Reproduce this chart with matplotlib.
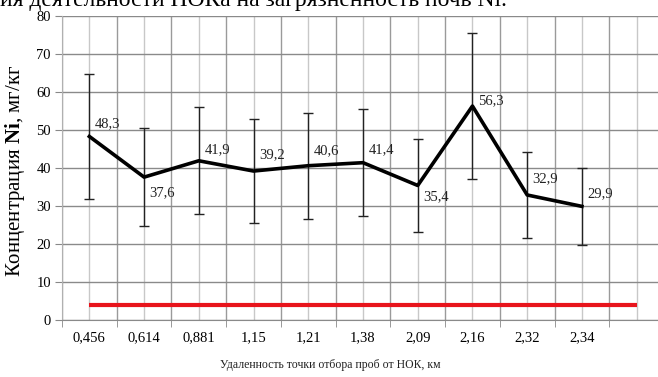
import matplotlib
matplotlib.use("Agg")
import matplotlib.pyplot as plt
import numpy as np

plt.rcParams['font.family'] = ['Liberation Serif', 'DejaVu Serif']
plt.rcParams['mathtext.fontset'] = 'custom'
plt.rcParams['mathtext.rm'] = 'Liberation Serif'
plt.rcParams['mathtext.bf'] = 'Liberation Serif:bold'

categories = ["0,456", "0,614", "0,881", "1,15", "1,21", "1,38", "2,09", "2,16", "2,32", "2,34", ""]
values = [48.3, 37.6, 41.9, 39.2, 40.6, 41.4, 35.4, 56.3, 32.9, 29.9]
errors = [16.4, 12.8, 14.1, 13.6, 13.9, 14.0, 12.2, 19.2, 11.2, 10.2]
value_labels = ["48,3", "37,6", "41,9", "39,2", "40,6", "41,4", "35,4", "56,3", "32,9", "29,9"]
label_dy = [9, -11, 8, 12, 11, 9, -8, 4, 12, 9]
pdk = [4, 4, 4, 4, 4, 4, 4, 4, 4, 4, 4]

fig = plt.figure(figsize=(6.58, 3.77), dpi=100)
W, H = 658, 377
ax = fig.add_axes([62 / W, (H - 320) / H, (664 - 62) / W, (320 - 16) / H])

x_all = np.arange(len(categories))
x = np.arange(len(values))

ax.set_xlim(-0.5, len(categories) - 0.5)
ax.set_ylim(0, 80)

# grid
ax.set_xticks(x_all)
ax.set_xticklabels(categories, fontsize=10.5)
ax.set_xticks(np.arange(-0.5, len(categories) + 0.5, 1), minor=True)
ax.tick_params(axis='x', which='major', length=0, pad=8)
ax.tick_params(axis='x', which='minor', length=5, color='#888888', direction='out')
ax.grid(axis='x', which='major', color='#c8c8c8', linewidth=1.0)
ax.grid(axis='x', which='minor', color='#9a9a9a', linewidth=1.0)
ax.set_yticks(np.arange(0, 81, 10))
ax.tick_params(axis='y', which='major', length=5, color='#888888', labelsize=10.5, pad=3)
ax.grid(axis='y', which='major', color='#8a8a8a', linewidth=1.0)
ax.set_axisbelow(True)

for s in ['top', 'right']:
    ax.spines[s].set_visible(False)
ax.spines['left'].set_color('#b0b0b0')
ax.spines['bottom'].set_color('#8a8a8a')

ax.plot(x_all, pdk, color='#e8141c', linewidth=3, solid_capstyle='butt', zorder=3)
ax.errorbar(x, values, yerr=errors, fmt='none', ecolor='#222222', elinewidth=1.0,
            capsize=3.5, capthick=1.0, zorder=4)
ax.plot(x, values, color='black', linewidth=2.6, zorder=5)

for xi, v, lab, dy in zip(x, values, value_labels, label_dy):
    ax.annotate(lab, (xi, v), xytext=(4, dy), textcoords='offset points',
                ha='left', va='center', fontsize=10.5, color='#222222', zorder=6)

ax.set_ylabel(r"Концентрация $\mathbf{Ni}$, мг/кг", fontsize=15)
ax.yaxis.set_label_coords(-0.058, 0.49)

fig.text(330 / W, 1 - 365 / H, "Удаленность точки отбора проб от НОК, км",
         ha='center', va='center', fontsize=8.5, color='#222222')

fig.text(0, 1 - 6 / H, "ия деятельности НОКа на загрязненность почв Ni.",
         ha='left', va='baseline', fontsize=17, color='black')

fig.savefig("out.png", dpi=100)
